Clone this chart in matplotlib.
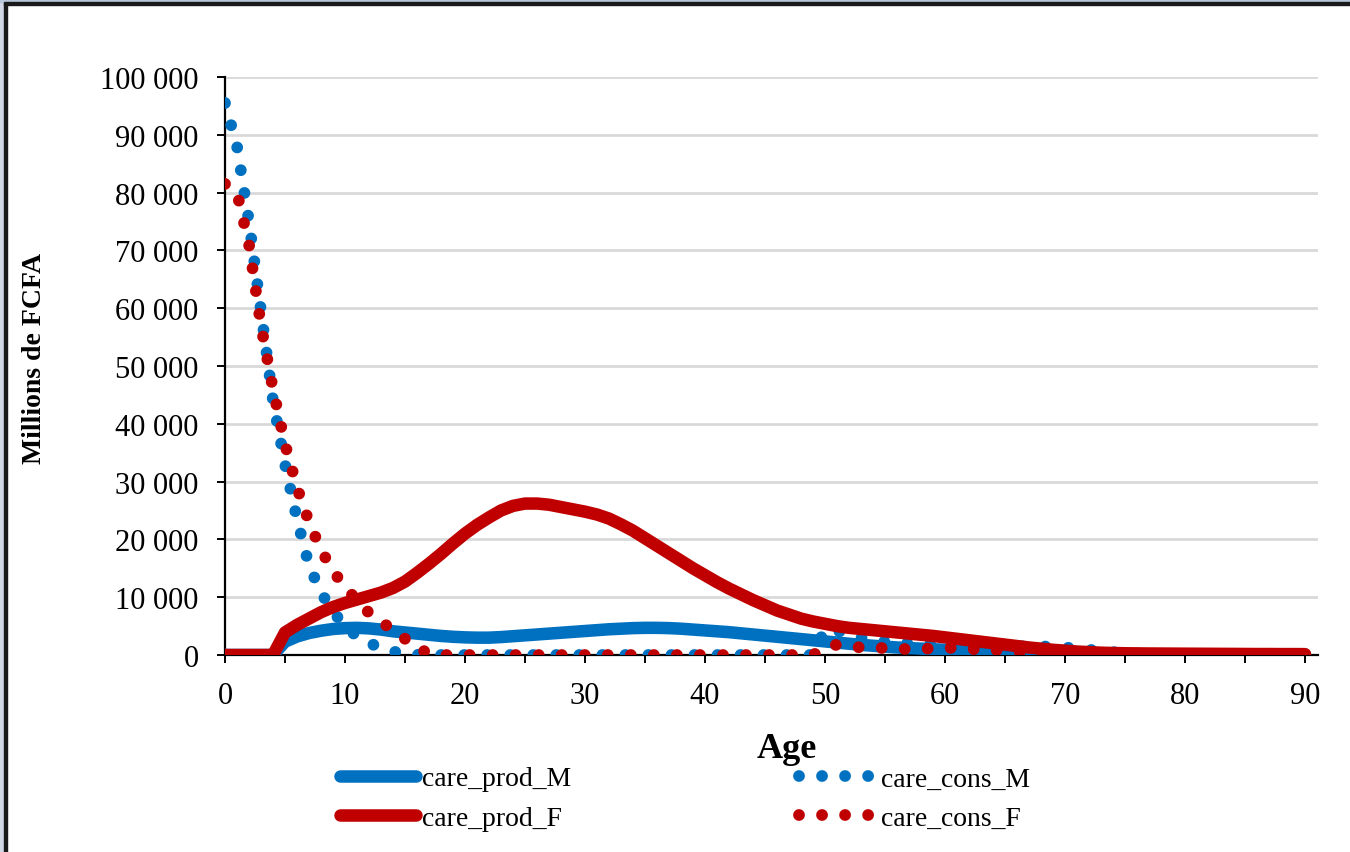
import matplotlib.pyplot as plt
from matplotlib.patches import Rectangle
from matplotlib.ticker import MultipleLocator, FuncFormatter

plt.rcParams['font.family'] = ['Liberation Serif', 'DejaVu Serif']

ages = list(range(91))

care_prod_M = [0, 0, 0, 0, 0, 2300, 3200, 3800, 4200, 4500,
               4650, 4700, 4600, 4400, 4100, 3900, 3700, 3500, 3300, 3150,
               3050, 3000, 3000, 3100, 3250, 3400, 3550, 3700, 3850, 4000,
               4150, 4300, 4450, 4550, 4650, 4700, 4700, 4650, 4550, 4400,
               4250, 4100, 3950, 3750, 3550, 3350, 3150, 2950, 2750, 2550,
               2350, 2150, 1950, 1750, 1600, 1450, 1300, 1200, 1100, 1000,
               900, 800, 700, 600, 550, 480, 420, 360, 310, 260,
               220, 190, 160, 130, 110, 100, 90, 80, 70, 60,
               55, 50, 50, 45, 40, 40, 35, 35, 30, 30, 30]

care_cons_M = [95500, 88000, 75000, 59500, 44000, 33000, 23500, 15500, 10800, 7500,
               5000, 3200, 2100, 1200, 600, 250, 50, 0, 0, 0,
               0, 0, 0, 0, 0, 0, 0, 0, 0, 0,
               0, 0, 0, 0, 0, 0, 0, 0, 0, 0,
               0, 0, 0, 0, 0, 0, 0, 0, 0, 0,
               4400, 4200, 3600, 3000, 2600, 2300, 2100, 2000, 1900, 1800,
               1700, 1700, 1600, 1600, 1500, 1500, 1500, 1500, 1500, 1400,
               1300, 1100, 900, 700, 500, 350, 250, 150, 100, 100,
               100, 100, 100, 100, 100, 100, 100, 100, 100, 100, 100]

care_prod_F = [0, 0, 0, 0, 0, 3900, 5200, 6300, 7400, 8300,
               9000, 9600, 10200, 10800, 11600, 12700, 14200, 15800, 17500, 19300,
               21000, 22500, 23800, 25000, 25800, 26200, 26200, 26000, 25600, 25200,
               24800, 24300, 23600, 22600, 21500, 20200, 18900, 17600, 16300, 15000,
               13800, 12600, 11500, 10500, 9500, 8600, 7700, 7000, 6300, 5800,
               5400, 5000, 4700, 4500, 4300, 4100, 3900, 3700, 3500, 3300,
               3050, 2800, 2550, 2300, 2050, 1800, 1550, 1300, 1100, 900,
               750, 600, 500, 400, 350, 300, 280, 260, 250, 240,
               230, 220, 210, 200, 190, 180, 170, 170, 160, 160, 150]

care_cons_F = [81500, 80000, 71000, 57000, 46000, 36500, 29000, 23000, 18200, 14500,
               11800, 9400, 7300, 5800, 4300, 2800, 1200, 300, 0, 0,
               0, 0, 0, 0, 0, 0, 0, 0, 0, 0,
               0, 0, 0, 0, 0, 0, 0, 0, 0, 0,
               0, 0, 0, 0, 0, 0, 0, 0, 0, 0,
               1200, 1800, 1500, 1300, 1250, 1200, 1100, 1000, 1050, 1150,
               1250, 1200, 1050, 950, 900, 750, 600, 450, 350, 450,
               600, 500, 400, 300, 250, 200, 200, 180, 170, 160,
               150, 150, 140, 140, 130, 130, 120, 120, 110, 110, 100]

blue = '#0070C0'
red = '#C00000'

fig = plt.figure(figsize=(13.5, 8.53), dpi=100)
ax = fig.add_axes([225 / 1350, 1 - 656 / 853, 1093 / 1350, 578 / 853])

lw = 9
dlw = 8.5
dot = (0, (0.001, 1.95))
ax.plot(ages, care_prod_M, color=blue, lw=lw, solid_capstyle='round', solid_joinstyle='round', label='care_prod_M', zorder=3)
ax.plot(ages, care_cons_M, color=blue, lw=dlw, linestyle=dot, dash_capstyle='round', label='care_cons_M', zorder=3)
ax.plot(ages, care_prod_F, color=red, lw=lw, solid_capstyle='round', solid_joinstyle='round', label='care_prod_F', zorder=3)
ax.plot(ages, care_cons_F, color=red, lw=dlw, linestyle=dot, dash_capstyle='round', label='care_cons_F', zorder=3)

ax.set_xlim(0, 91.08)
ax.set_ylim(0, 100000)
ax.xaxis.set_major_locator(MultipleLocator(10))
ax.xaxis.set_minor_locator(MultipleLocator(5))
ax.yaxis.set_major_locator(MultipleLocator(10000))
ax.yaxis.set_major_formatter(FuncFormatter(lambda v, p: f"{int(v):,}".replace(",", " ")))

ax.grid(axis='y', color='#D9D9D9', lw=2, zorder=0)
ax.set_axisbelow(True)
for s in ['top', 'right']:
    ax.spines[s].set_visible(False)
for s in ['left', 'bottom']:
    ax.spines[s].set_linewidth(1.6)
    ax.spines[s].set_zorder(2)
ax.tick_params(axis='both', which='both', direction='out', length=6, width=1.4, labelsize=22, pad=13)
ax.tick_params(axis='x', which='minor', length=6)

ax.set_xlabel('Age', fontsize=26, fontweight='bold')
ax.xaxis.set_label_coords(0.514, -0.133)
ax.set_ylabel('Millions de FCFA', fontsize=20, fontweight='bold')
ax.yaxis.set_label_coords(-0.163, 0.514)

h, l = ax.get_legend_handles_labels()
order = [0, 2, 1, 3]
fig.legend([h[i] for i in order], [l[i] for i in order], ncol=2, frameon=False,
           loc='upper left', bbox_to_anchor=(340 / 1350, 1 - 767 / 853),
           fontsize=20, handlelength=2.75, handletextpad=0.2, columnspacing=8.2,
           labelspacing=0.5, borderpad=0, borderaxespad=0)

# frame of the cropped slide
fig.patches.append(Rectangle((0, 0), 4 / 1350, 1, transform=fig.transFigure, color='#D3D8E6', zorder=-1))
fig.patches.append(Rectangle((4 / 1350, 0), 2.5 / 1350, 1 - 3 / 853, transform=fig.transFigure, color='#1a1a1a', zorder=-1))
fig.patches.append(Rectangle((0, 1 - 3 / 853), 1, 3 / 853, transform=fig.transFigure, color='#B8C6DA', zorder=-1))
fig.patches.append(Rectangle((4 / 1350, 1 - 5.5 / 853), 1, 2.5 / 853, transform=fig.transFigure, color='#1a1a1a', zorder=-1))

plt.savefig('out.png', dpi=100)
